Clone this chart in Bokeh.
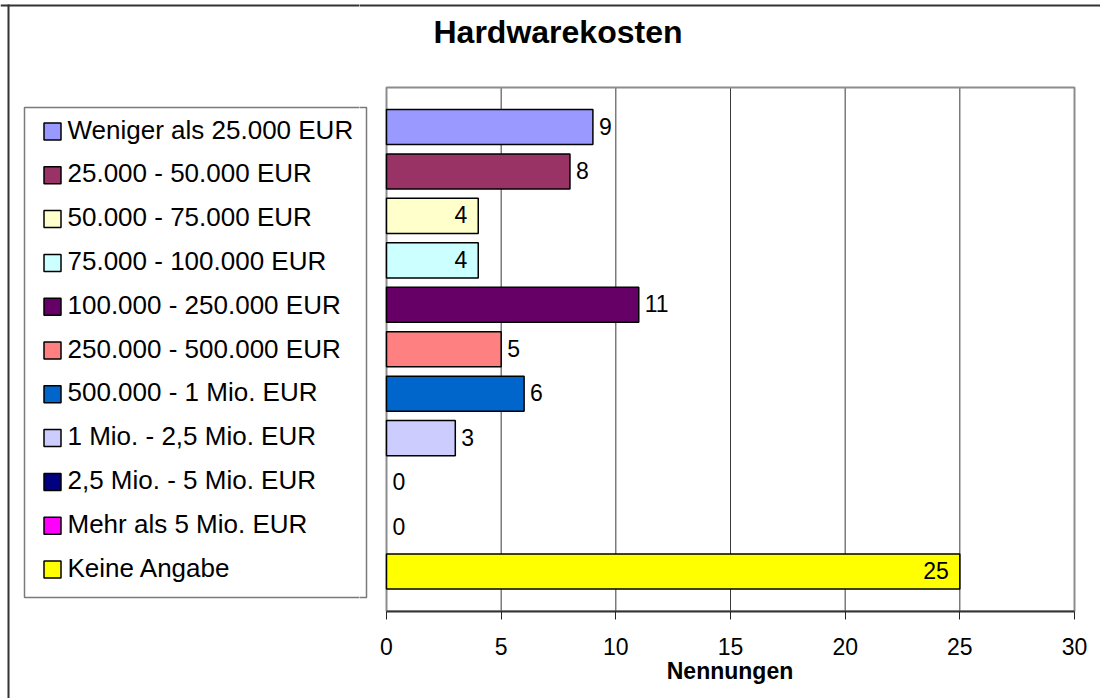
from bokeh.plotting import figure
from bokeh.layouts import row
from bokeh.models import Range1d, FixedTicker, ColumnDataSource, CDSView, BooleanFilter
from bokeh.core.properties import value
from bokeh.embed import file_html
from bokeh.resources import INLINE

# ---- data ----
categories = ["Weniger als 25.000 EUR", "25.000 - 50.000 EUR", "50.000 - 75.000 EUR",
              "75.000 - 100.000 EUR", "100.000 - 250.000 EUR", "250.000 - 500.000 EUR",
              "500.000 - 1 Mio. EUR", "1 Mio. - 2,5 Mio. EUR", "2,5 Mio. - 5 Mio. EUR",
              "Mehr als 5 Mio. EUR", "Keine Angabe"]
counts = [9, 8, 4, 4, 11, 5, 6, 3, 0, 0, 25]
colors = ["#9999FF", "#993366", "#FFFFCC", "#CCFFFF", "#660066", "#FF8080",
          "#0066CC", "#CCCCFF", "#000080", "#FF00FF", "#FFFF00"]
x_ticks = [0, 5, 10, 15, 20, 25, 30]
title_text = "Hardwarekosten"
x_label = "Nennungen"
# where Excel put the value label: outside (False) or inside the bar end (True)
label_inside = [False, False, True, True, False, False, False, False, False, False, True]

FONT = "Liberation Sans"
n = len(categories)
idx = list(range(n))

# ---- layout (page pixels) ----
PAGE_W, PAGE_H = 1100, 698
SPLIT = 359                        # left panel (legend) | right panel (chart)
PLOT_L, PLOT_R, PLOT_T, PLOT_B = 386, 1074, 87, 611
XMAX = x_ticks[-1]
SX = (PLOT_R - PLOT_L) / XMAX      # px per x unit
ROW0, SY = 126.5, 44.45            # centre of first category row, px per category


def X(px):
    return (px - PLOT_L) / SX


def Y(py):
    return (py - ROW0) / SY


def decor(f):
    # outer chart border (left and top edges are inside the picture)
    f.segment(x0=[X(0), X(8)], x1=[X(PAGE_W + 5), X(8)],
              y0=[Y(5), Y(4)], y1=[Y(5), Y(PAGE_H + 5)],
              line_color="#333333", line_width=2)
    # legend frame
    f.quad(left=[X(24)], right=[X(366)], top=[Y(107)], bottom=[Y(597)],
           fill_color="white", line_color="#7a7a7a", line_width=1.5)


def base(f):
    f.background_fill_color = "white"
    f.border_fill_color = "white"
    f.outline_line_color = None
    f.xgrid.visible = False
    f.ygrid.visible = False
    f.frame_align = False


# ---------- left panel: legend ----------
L = figure(width=SPLIT, height=PAGE_H, output_backend="svg", toolbar_location=None,
           x_range=Range1d(X(0), X(SPLIT)), y_range=Range1d(Y(PAGE_H), Y(0)),
           x_axis_location=None, y_axis_location=None,
           min_border_left=0, min_border_right=0, min_border_top=0, min_border_bottom=0)
base(L)
decor(L)
LEG_Y0, LEG_DY = 131, 43.8
leg_src = ColumnDataSource(dict(x=[X(52)] * n, tx=[X(67)] * n,
                                y=[Y(LEG_Y0 + LEG_DY * i) for i in idx],
                                color=colors, cat=categories))
L.scatter(x="x", y="y", marker="square", size=17, fill_color="color", line_color="black",
          line_width=1.5, source=leg_src)
L.text(x="tx", y="y", text="cat", y_offset=-2, text_align="left", text_baseline="middle",
       text_font=value(FONT), text_font_size="26px", text_color="black", source=leg_src)

# ---------- right panel: bars ----------
M = figure(width=PAGE_W - SPLIT, height=PAGE_H, output_backend="svg", toolbar_location=None,
           x_range=Range1d(X(SPLIT), X(PAGE_W)), y_range=Range1d(Y(PLOT_B), Y(0)),
           y_axis_location=None,
           min_border_left=0, min_border_right=0, min_border_top=0,
           min_border_bottom=PAGE_H - PLOT_B)
base(M)
decor(M)

ax = M.xaxis[0]
ax.bounds = (x_ticks[0], x_ticks[-1])
ax.ticker = FixedTicker(ticks=x_ticks)
ax.minor_tick_line_color = None
ax.major_tick_in = 0
ax.major_tick_out = 8
ax.major_tick_line_color = "#222222"
ax.axis_line_color = "#333333"
ax.axis_line_width = 2
ax.major_label_text_font = FONT
ax.major_label_text_font_size = "23px"
ax.major_label_text_color = "black"
ax.major_label_standoff = 18
ax.axis_label = x_label
ax.axis_label_text_font = FONT
ax.axis_label_text_font_size = "23px"
ax.axis_label_text_font_style = "bold"
ax.axis_label_text_color = "black"
ax.axis_label_standoff = 0

y_top, y_bot = Y(PLOT_T), Y(PLOT_B)

# title
M.text(x=[X(557.5)], y=[Y(31.5)], text=[title_text], text_align="center",
       text_baseline="middle", text_font=value(FONT), text_font_size="32px",
       text_font_style="bold", text_color="black")

# vertical gridlines
grid_x = x_ticks[1:-1]
M.segment(x0=grid_x, x1=grid_x, y0=[y_top] * len(grid_x), y1=[y_bot] * len(grid_x),
          line_color="#3a3a3a", line_width=1)
# plot area border
M.quad(left=[0], right=[XMAX], top=[y_top], bottom=[y_bot], fill_color=None,
       line_color="#8c8c8c", line_width=2)

# bars (zero-length bars are not drawn, as in the original)
src = ColumnDataSource(dict(y=idx, count=counts, color=colors))
M.hbar(y="y", left=0, right="count", height=0.79, fill_color="color",
       line_color="black", line_width=1.5, source=src,
       view=CDSView(filter=BooleanFilter([c > 0 for c in counts])))

# value labels
out_i = [i for i in idx if not label_inside[i]]
in_i = [i for i in idx if label_inside[i]]
src_out = ColumnDataSource(dict(x=[counts[i] for i in out_i], y=out_i,
                                t=[str(counts[i]) for i in out_i]))
src_in = ColumnDataSource(dict(x=[counts[i] for i in in_i], y=in_i,
                               t=[str(counts[i]) for i in in_i]))
M.text(x="x", y="y", text="t", source=src_out, x_offset=6, y_offset=-1, text_align="left",
       text_baseline="middle", text_font=value(FONT), text_font_size="23px", text_color="black")
M.text(x="x", y="y", text="t", source=src_in, x_offset=-11, y_offset=-1, text_align="right",
       text_baseline="middle", text_font=value(FONT), text_font_size="23px", text_color="black")

layout = row(L, M, spacing=0)
open("out.html", "w").write(file_html(layout, INLINE))
